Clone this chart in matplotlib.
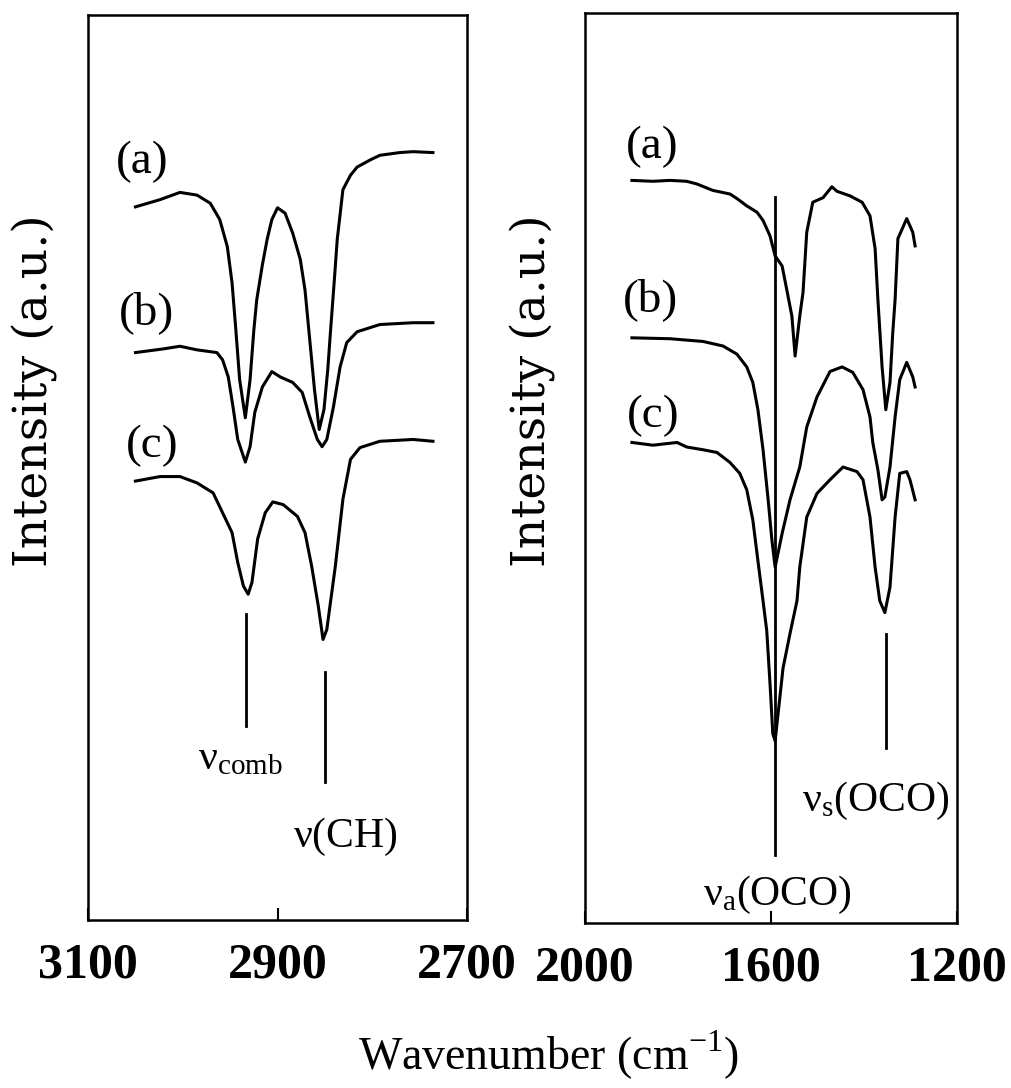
import matplotlib
matplotlib.use("Agg")
import matplotlib.pyplot as plt

plt.rcParams['font.family'] = ['Liberation Serif', 'DejaVu Serif']
plt.rcParams['mathtext.fontset'] = 'custom'
plt.rcParams['mathtext.rm'] = 'Liberation Serif'

# ---- C-H stretching region (left panel) ----
ch_a_wn = [3050, 3024, 3003, 2985, 2971, 2961, 2953, 2948, 2944, 2940,
           2934, 2929, 2925, 2922, 2916, 2911, 2906, 2900, 2892, 2884,
           2876, 2871, 2866, 2861, 2856, 2851, 2847, 2844, 2840, 2837,
           2831, 2823, 2816, 2802, 2792, 2771, 2757, 2736]
ch_a_int = [78.8, 79.6, 80.4, 80.1, 79.2, 77.4, 74.4, 70.4, 65.2, 59.7,
            55.5, 59.7, 65.2, 68.5, 72.4, 75.2, 77.4, 78.7, 78.1, 75.9,
            73.0, 69.6, 64.1, 58.6, 54.2, 56.4, 60.8, 65.2, 70.8, 75.2,
            80.7, 82.3, 83.2, 84.0, 84.5, 84.8, 84.9, 84.8]

ch_b_wn = [3050, 3021, 3003, 2985, 2964, 2958, 2952, 2947, 2942, 2934,
           2929, 2924, 2916, 2906, 2897, 2884, 2874, 2866, 2858, 2853,
           2848, 2841, 2834, 2827, 2816, 2792, 2757, 2736]
ch_b_int = [62.7, 63.1, 63.4, 63.0, 62.7, 61.9, 60.0, 56.7, 53.1, 50.6,
            52.3, 56.1, 58.9, 60.6, 60.0, 59.4, 58.3, 55.6, 53.1, 52.3,
            53.1, 56.7, 61.1, 63.8, 65.0, 65.8, 66.0, 66.0]

ch_c_wn = [3050, 3024, 3003, 2985, 2968, 2958, 2948, 2942, 2936, 2931,
           2927, 2921, 2913, 2905, 2894, 2879, 2871, 2864, 2857, 2852,
           2848, 2839, 2831, 2823, 2813, 2792, 2757, 2736]
ch_c_int = [48.5, 49.0, 49.0, 48.3, 47.2, 45.0, 42.8, 39.5, 36.9, 36.0,
            37.3, 42.1, 45.0, 46.2, 45.9, 44.6, 42.8, 39.1, 34.7, 31.0,
            32.1, 39.1, 46.5, 50.9, 52.2, 52.9, 53.1, 52.9]

# ---- carboxylate region (right panel) ----
oco_a_wn = [1899, 1854, 1817, 1781, 1759, 1725, 1688, 1673, 1652, 1630,
            1617, 1602, 1591, 1576, 1566, 1555, 1548, 1538, 1531, 1523,
            1510, 1488, 1469, 1458, 1430, 1404, 1387, 1376, 1370, 1361,
            1353, 1344, 1338, 1333, 1327, 1308, 1295, 1290]
oco_a_int = [81.6, 81.5, 81.6, 81.5, 81.2, 80.5, 80.1, 79.6, 78.8, 78.1,
             77.2, 75.5, 73.3, 72.2, 69.6, 66.7, 62.3, 66.7, 69.3, 75.9,
             79.2, 79.7, 80.9, 80.4, 79.9, 79.2, 77.7, 74.1, 68.5, 61.1,
             56.4, 59.4, 64.9, 68.5, 75.2, 77.4, 75.9, 74.4]

oco_b_wn = [1899, 1817, 1746, 1703, 1673, 1652, 1639, 1628, 1617, 1606,
            1598, 1591, 1576, 1559, 1538, 1523, 1501, 1473, 1447, 1424,
            1402, 1387, 1381, 1370, 1361, 1355, 1344, 1333, 1323, 1308,
            1295, 1290]
oco_b_int = [64.3, 64.2, 63.9, 63.4, 62.5, 61.1, 59.4, 56.4, 52.0, 46.5,
             42.1, 39.1, 42.8, 46.5, 50.1, 54.5, 57.8, 60.6, 61.1, 60.5,
             58.6, 55.6, 52.8, 49.8, 46.5, 46.8, 50.1, 55.6, 59.7, 61.6,
             60.0, 58.9]

oco_c_wn = [1899, 1854, 1802, 1781, 1746, 1716, 1688, 1667, 1652, 1639,
            1628, 1617, 1609, 1602, 1596, 1591, 1574, 1559, 1544, 1538,
            1523, 1501, 1473, 1445, 1415, 1402, 1387, 1376, 1366, 1355,
            1344, 1333, 1323, 1308, 1301, 1290]
oco_c_int = [52.8, 52.5, 52.8, 52.3, 52.0, 51.7, 50.6, 49.4, 47.6, 44.3,
             39.8, 35.4, 32.1, 26.3, 20.8, 20.0, 28.0, 31.8, 35.4, 39.1,
             44.6, 47.2, 48.7, 50.1, 49.6, 48.7, 44.6, 39.1, 35.4, 34.1,
             36.9, 44.6, 49.4, 49.6, 48.7, 46.5]

# band markers: (position, bottom, top)
ch_marks = [(2933, 21.4, 33.8), (2850, 15.2, 27.4)]
oco_marks = [(1591, 7.5, 79.8), (1353, 19.2, 31.8)]

fig = plt.figure(figsize=(10.12, 10.88), dpi=100)
ax1 = fig.add_axes([0.087, 0.1544, 0.3745, 0.8318])
ax2 = fig.add_axes([0.578, 0.1517, 0.3676, 0.8364])

lw = 2.2
for x, y in [(ch_a_wn, ch_a_int), (ch_b_wn, ch_b_int), (ch_c_wn, ch_c_int)]:
    ax1.plot(x, y, color='black', lw=lw, solid_joinstyle='round')
for x, y in [(oco_a_wn, oco_a_int), (oco_b_wn, oco_b_int), (oco_c_wn, oco_c_int)]:
    ax2.plot(x, y, color='black', lw=lw, solid_joinstyle='round')

for pos, lo, hi in ch_marks:
    ax1.plot([pos, pos], [lo, hi], color='black', lw=2.0)
for pos, lo, hi in oco_marks:
    ax2.plot([pos, pos], [lo, hi], color='black', lw=2.0)

lab_fs = 34
ax1.text(3043, 83.8, '(a)', fontsize=lab_fs, ha='center', va='center')
ax1.text(3038, 67.1, '(b)', fontsize=lab_fs, ha='center', va='center')
ax1.text(3032, 52.4, '(c)', fontsize=lab_fs, ha='center', va='center')
ax2.text(1856, 85.3, '(a)', fontsize=lab_fs, ha='center', va='center')
ax2.text(1858, 68.5, '(b)', fontsize=lab_fs, ha='center', va='center')
ax2.text(1854, 55.7, '(c)', fontsize=lab_fs, ha='center', va='center')

ann_fs = 30
ax1.text(2984, 16.7, r'$\mathregular{ν_{comb}}$', fontsize=ann_fs, ha='left', va='baseline')
ax1.text(2884, 8.1, r'$\mathregular{ν}$(CH)', fontsize=ann_fs, ha='left', va='baseline')
ax2.text(1746, 2.0, r'$\mathregular{ν_a}$(OCO)', fontsize=ann_fs, ha='left', va='baseline')
ax2.text(1533, 12.3, r'$\mathregular{ν_s}$(OCO)', fontsize=ann_fs, ha='left', va='baseline')

ax1.set_xlim(3100, 2700)
ax2.set_xlim(2000, 1200)
ax1.set_xticks([3100, 2900, 2700])
ax2.set_xticks([2000, 1600, 1200])

for ax in (ax1, ax2):
    ax.set_ylim(0, 100)
    ax.set_yticks([])
    ax.tick_params(axis='x', direction='in', length=9, width=1.5,
                   labelsize=36, pad=16)
    for lbl in ax.get_xticklabels():
        lbl.set_fontweight('bold')
    for sp in ax.spines.values():
        sp.set_linewidth(1.8)
    ax.text(-0.14, 0.585, 'Intensity (a.u.)', transform=ax.transAxes,
            rotation=90, ha='center', va='center', fontsize=34,
            family='DejaVu Serif')

fig.text(548 / 1012, 1 - 1055 / 1088, r'Wavenumber (cm$^{\mathregular{-1}}$)',
         fontsize=33, ha='center', va='center')

fig.savefig('out.png', dpi=100)
